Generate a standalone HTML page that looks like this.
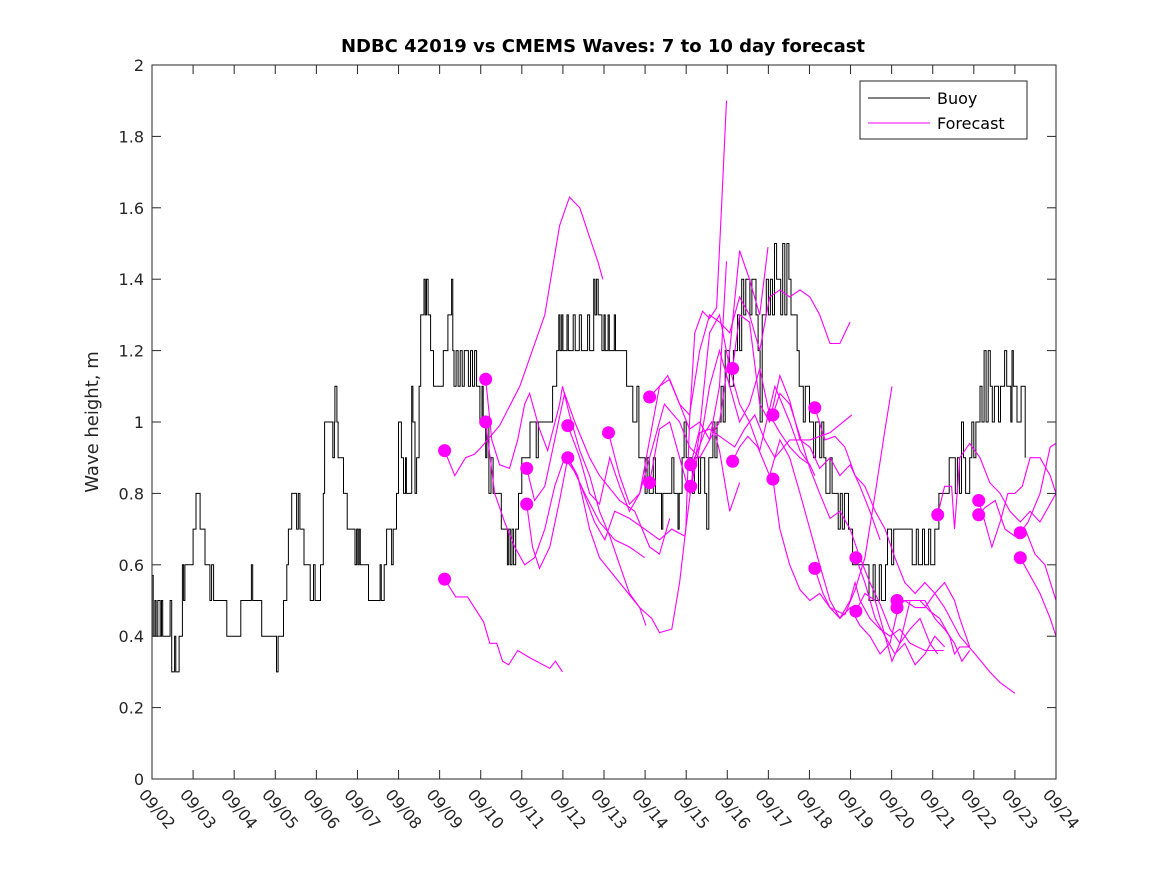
<!DOCTYPE html>
<html><head><meta charset="utf-8"><style>
html,body{margin:0;padding:0;background:#fff;}
svg{display:block;font-family:"DejaVu Sans","Liberation Sans",sans-serif;}
</style></head><body>
<svg id="chart" width="1167" height="875" viewBox="0 0 1167 875" xmlns="http://www.w3.org/2000/svg">
<rect x="0" y="0" width="1167" height="875" fill="#fff"/>
<text x="603" y="52" text-anchor="middle" font-size="18" font-weight="bold" fill="#000">NDBC 42019 vs CMEMS Waves: 7 to 10 day forecast</text>
<text x="0" y="0" transform="translate(98,422) rotate(-90)" text-anchor="middle" font-size="18" fill="#262626">Wave height, m</text>
<g id="plot"></g>
<g id="axes"></g>
<g>
<rect x="860" y="81" width="167" height="58" fill="#fff" stroke="#262626" stroke-width="1"/>
<line x1="868" y1="98" x2="930" y2="98" stroke="#000" stroke-width="1"/>
<text x="937" y="104" font-size="16" fill="#000">Buoy</text>
<line x1="868" y1="123" x2="930" y2="123" stroke="#ff00ff" stroke-width="1"/>
<text x="937" y="129" font-size="16" fill="#000">Forecast</text>
</g>
</svg>
<script>
const xTickLabels=["09/02","09/03","09/04","09/05","09/06","09/07","09/08","09/09","09/10","09/11","09/12","09/13","09/14","09/15","09/16","09/17","09/18","09/19","09/20","09/21","09/22","09/23","09/24"];
const yTicks=[0,0.2,0.4,0.6,0.8,1,1.2,1.4,1.6,1.8,2];
const yTickLabels=["0","0.2","0.4","0.6","0.8","1","1.2","1.4","1.6","1.8","2"];
const buoyT=[0,0.03,0.07,0.1,0.14,0.2,0.23,0.26,0.44,0.48,0.55,0.58,0.66,0.74,0.77,0.8,1.0,1.07,1.17,1.29,1.41,1.45,1.5,1.82,2.16,2.42,2.45,2.67,3.03,3.07,3.2,3.28,3.32,3.4,3.52,3.56,3.6,3.7,3.85,3.93,3.97,4.1,4.17,4.2,4.4,4.44,4.45,4.5,4.53,4.66,4.75,4.94,4.98,5.01,5.04,5.07,5.27,5.55,5.58,5.65,5.71,5.83,5.87,5.95,6.0,6.07,6.12,6.17,6.19,6.32,6.35,6.4,6.44,6.5,6.54,6.62,6.65,6.68,6.72,6.78,6.85,7.09,7.2,7.29,7.32,7.35,7.4,7.45,7.5,7.55,7.6,7.7,7.75,7.8,7.85,7.9,7.98,8.03,8.06,8.12,8.15,8.2,8.25,8.3,8.5,8.65,8.68,8.72,8.76,8.8,8.85,8.92,9.0,9.2,9.35,9.4,9.75,9.85,9.9,9.93,9.97,10.0,10.1,10.13,10.25,10.3,10.4,10.45,10.6,10.65,10.75,10.78,10.82,10.86,10.95,11.0,11.03,11.1,11.13,11.25,11.28,11.55,11.7,11.8,11.85,12.0,12.05,12.1,12.2,12.25,12.4,12.43,12.65,12.7,12.8,12.83,12.9,12.95,13.0,13.15,13.2,13.3,13.35,13.45,13.5,13.55,13.65,13.7,13.75,13.85,13.9,13.95,14.05,14.15,14.25,14.3,14.35,14.4,14.45,14.55,14.6,14.7,14.75,14.8,14.85,14.95,15.0,15.05,15.1,15.15,15.2,15.3,15.35,15.4,15.45,15.5,15.55,15.7,15.75,15.85,15.9,16.0,16.1,16.15,16.25,16.3,16.35,16.4,16.5,16.55,16.7,16.75,16.8,16.85,16.95,17.05,17.45,17.55,17.6,17.7,17.75,17.85,17.9,18.0,18.05,18.5,18.6,18.65,18.75,18.8,18.9,18.95,19.05,19.15,19.4,19.55,19.6,19.65,19.7,19.75,19.8,19.9,19.95,20.0,20.05,20.15,20.2,20.25,20.3,20.35,20.4,20.45,20.5,20.6,20.65,20.75,20.8,20.9,20.93,20.96,21.05,21.15,21.25];
const buoyV=[0.57,0.4,0.5,0.4,0.5,0.4,0.5,0.4,0.5,0.3,0.4,0.3,0.4,0.6,0.5,0.6,0.7,0.8,0.7,0.6,0.5,0.6,0.5,0.4,0.5,0.6,0.5,0.4,0.3,0.4,0.5,0.6,0.7,0.8,0.7,0.8,0.7,0.6,0.5,0.6,0.5,0.6,0.8,1.0,0.9,1.0,1.1,1.0,0.9,0.8,0.7,0.6,0.7,0.6,0.7,0.6,0.5,0.6,0.5,0.6,0.7,0.6,0.7,0.8,1.0,0.9,0.8,0.9,0.8,1.1,1.0,0.8,0.9,1.1,1.3,1.4,1.3,1.4,1.3,1.2,1.1,1.2,1.3,1.4,1.2,1.1,1.2,1.1,1.2,1.1,1.2,1.1,1.2,1.1,1.2,1.1,1.0,1.1,1.0,0.9,1.0,0.8,0.9,0.8,0.7,0.6,0.7,0.6,0.7,0.6,0.7,0.8,0.9,1.0,0.9,1.0,1.1,1.2,1.3,1.2,1.3,1.2,1.3,1.2,1.3,1.2,1.3,1.2,1.3,1.2,1.4,1.3,1.4,1.3,1.2,1.3,1.2,1.3,1.2,1.3,1.2,1.1,1.0,1.1,0.9,0.8,0.9,0.8,0.9,0.8,0.7,0.8,0.9,0.8,0.7,0.8,0.9,1.0,0.9,0.8,0.9,0.8,0.9,0.8,0.7,0.9,1.0,0.9,1.0,1.1,1.0,1.2,1.1,1.2,1.3,1.2,1.4,1.3,1.4,1.3,1.4,1.3,1.2,1.0,1.3,1.4,1.3,1.4,1.3,1.5,1.4,1.3,1.5,1.3,1.5,1.4,1.3,1.2,1.1,1.0,1.1,1.0,0.9,1.0,0.9,1.0,0.9,0.8,0.9,0.8,0.7,0.8,0.7,0.8,0.7,0.6,0.5,0.6,0.5,0.6,0.5,0.6,0.7,0.6,0.7,0.6,0.7,0.6,0.7,0.6,0.7,0.6,0.7,0.8,0.9,0.8,0.9,0.8,1.0,0.9,0.8,0.9,1.0,0.9,1.0,1.1,1.0,1.2,1.0,1.2,1.1,1.0,1.1,1.0,1.1,1.2,1.1,1.0,1.2,1.1,1.0,1.1,0.9];
const fcT=[
[7.12,7.39,7.68,8.07,8.22,8.39,8.53,8.68,8.9,9.19,9.68,9.82,9.99],
[7.12,7.37,7.63,7.85,8.02,8.46,8.95,9.56,9.92,10.16,10.41,10.7,10.85,10.97],
[8.12,8.27,8.46,8.7,8.9,9.07,9.19,9.43,9.63,9.92,9.99,10.16,10.41,10.65,10.89,11.14,11.38,11.62,11.87,12.02],
[8.12,8.34,8.58,8.83,9.07,9.31,9.56,9.8,10.04,10.29,10.53,10.89,11.26,11.62,11.99],
[9.12,9.31,9.56,9.8,10.04,10.29,10.65,10.89,11.38,11.75,12.11,12.35,12.6],
[9.12,9.26,9.43,9.68,9.92,10.12,10.36,10.65,10.89,11.38,11.87,12.16,12.35,12.65,12.84,12.99,13.08,13.21,13.4,13.57,13.74,13.86,13.98],
[10.12,10.41,10.65,10.89,11.14,11.38,11.62,11.87,12.23,12.47,12.84,13.08,13.33,13.57,13.81,13.98],
[10.12,10.41,10.77,11.02,11.26,11.62,11.99,12.35,12.65,12.97,13.21,13.45,13.62,13.81,14.06,14.3],
[11.11,11.38,11.62,11.87,12.11,12.35,12.55,12.84,13.08,13.33,13.57,13.81,14.06,14.3,14.54,14.79,14.99],
[12.11,12.35,12.6,12.84,13.08,13.33,13.57,13.81,14.06,14.3,14.54,14.79,15.03,15.28,15.52,15.77,16.01,16.25,16.5,16.74,16.99],
[12.11,12.35,12.6,12.84,13.08,13.33,13.57,13.81,14.06,14.3,14.54,14.79,15.03,15.28,15.52,15.77,16.01,16.13],
[13.11,13.33,13.57,13.81,14.06,14.3,14.54,14.79,15.16,15.52,15.77,16.01],
[13.11,13.33,13.57,13.94,14.18,14.42,14.67,14.91,15.16,15.52,16.01,16.5,17.03],
[14.13,14.3,14.54,14.79,15.03,15.28,15.52,15.77,16.01,16.25,16.5,16.74,16.99,17.23,17.47,17.72],
[14.13,14.3,14.5,14.74,15.03,15.28,15.52,15.77,16.01,16.25,16.5,16.74,16.99,17.23,17.47,17.72,17.96,18.2],
[15.11,15.28,15.52,15.77,16.01,16.25,16.5,16.74,16.99,17.23,17.47,17.72,17.96,18.2,18.45,18.69,18.93,19.12],
[15.11,15.28,15.52,15.77,16.01,16.25,16.5,16.74,16.99,17.11,17.23,17.47,17.72,17.96,18.2,18.45,18.81,19.27],
[16.13,16.38,16.62,16.86,17.11,17.35,17.6,17.84,18.08,18.32,18.57,18.81,19.05,19.29,19.66,20.03,20.39,20.64,21.0],
[16.13,16.33,16.5,16.86,17.11,17.35,17.6,17.84,18.01],
[17.13,17.35,17.6,17.84,18.08,18.32,18.57,18.81,19.05,19.29],
[17.13,17.35,17.6,17.84,18.01,18.2,18.45,18.69,18.93,19.17,19.41,19.53,19.66,19.9],
[18.13,18.32,18.57,18.81,19.05,19.29,19.53,19.66,19.9],
[18.13,18.32,18.57,18.81,19.05,19.29,19.53,19.71,19.9],
[19.12,19.29,19.46,19.53,19.66,19.9,20.15,20.39,20.64,20.88,21.13,21.37,21.61,22.0],
[20.12,20.27,20.44,20.64,20.83,21.0,21.18,21.37,21.61,21.86,22.0],
[20.12,20.27,20.52,20.76,21.0,21.25,21.49,21.73,22.0],
[21.13,21.32,21.61,21.86,22.0],
[21.13,21.37,21.61,21.86,22.0]
];
const fcV=[
[0.56,0.51,0.51,0.44,0.38,0.38,0.33,0.32,0.36,0.34,0.31,0.33,0.30],
[0.92,0.85,0.9,0.91,0.93,0.99,1.1,1.3,1.55,1.63,1.6,1.5,1.45,1.4],
[1.12,0.95,0.88,0.87,0.95,1.05,1.08,0.98,0.92,1.05,1.1,1.02,0.92,0.85,0.75,0.68,0.6,0.52,0.48,0.43],
[1.0,0.8,0.72,0.65,0.6,0.62,0.7,0.82,0.9,0.86,0.8,0.72,0.67,0.65,0.62],
[0.87,0.78,0.82,0.95,1.08,1.0,0.9,0.85,0.78,0.75,0.65,0.63,0.73],
[0.77,0.65,0.59,0.65,0.78,0.9,0.85,0.7,0.62,0.55,0.48,0.45,0.41,0.42,0.55,0.7,1.0,1.25,1.31,1.29,1.32,1.6,1.9],
[0.99,0.9,0.8,0.77,0.9,0.82,0.75,0.8,0.95,1.05,1.0,0.93,0.9,0.95,1.1,1.45],
[0.9,0.83,0.72,0.67,0.75,0.73,0.7,0.67,0.7,0.68,0.9,0.97,1.0,0.92,0.75,0.83],
[0.97,0.85,0.77,0.8,0.95,1.1,1.13,1.05,0.98,1.0,0.95,1.0,1.2,1.48,1.4,1.3,1.49],
[1.07,1.1,1.12,1.05,1.02,1.2,1.3,1.28,1.25,1.35,1.3,1.2,1.35,1.37,1.35,1.37,1.35,1.3,1.22,1.22,1.28],
[0.83,0.98,1.0,0.9,0.8,0.93,1.1,1.2,1.1,1.0,1.05,1.15,1.02,0.97,0.93,0.9,0.88,0.85],
[0.88,0.98,1.25,1.3,1.15,1.05,1.0,0.92,1.1,1.0,0.92,0.88],
[0.82,0.97,0.98,0.95,0.93,0.98,1.02,0.95,0.9,0.95,0.95,0.97,1.02],
[1.15,1.3,1.28,1.05,1.0,1.13,1.06,0.95,0.93,0.87,0.9,0.85,0.88,0.82,0.75,0.67],
[0.89,0.93,0.96,0.93,0.85,0.95,0.9,0.8,0.7,0.6,0.5,0.45,0.48,0.43,0.4,0.35,0.38,0.5],
[1.02,1.08,1.05,0.96,0.87,0.8,0.73,0.75,0.7,0.62,0.55,0.49,0.42,0.38,0.42,0.45,0.38,0.35],
[0.84,0.7,0.6,0.53,0.5,0.52,0.48,0.45,0.5,0.55,0.5,0.45,0.42,0.4,0.42,0.38,0.36,0.36],
[1.04,0.95,0.96,0.93,0.85,0.82,0.75,0.7,0.62,0.55,0.52,0.55,0.52,0.48,0.4,0.35,0.3,0.27,0.24],
[0.59,0.52,0.48,0.46,0.53,0.62,0.8,0.98,1.1],
[0.62,0.55,0.45,0.4,0.35,0.38,0.32,0.35,0.4,0.37],
[0.47,0.52,0.5,0.4,0.33,0.38,0.5,0.5,0.47,0.45,0.4,0.35,0.37,0.37],
[0.5,0.5,0.48,0.48,0.52,0.55,0.5,0.45,0.37],
[0.48,0.5,0.5,0.5,0.45,0.42,0.38,0.33,0.36],
[0.74,0.82,0.82,0.7,0.9,0.94,0.9,0.83,0.8,0.75,0.72,0.75,0.72,0.8],
[0.78,0.72,0.65,0.72,0.8,0.8,0.82,0.9,0.9,0.85,0.8],
[0.74,0.76,0.78,0.7,0.68,0.7,0.63,0.6,0.5],
[0.69,0.72,0.8,0.93,0.94],
[0.62,0.57,0.52,0.45,0.4]
];
const NS="http://www.w3.org/2000/svg";
const X0=152,X1=1056,Y0=779,Y1=65;
function xs(d){return X0+(X1-X0)*d/22;}
function ys(v){return Y0-(Y0-Y1)*v/2;}
function mk(tag,attrs,parent){const e=document.createElementNS(NS,tag);for(const k in attrs)e.setAttribute(k,attrs[k]);parent.appendChild(e);return e;}
const plot=document.getElementById('plot');
const axes=document.getElementById('axes');
let d="M"+xs(buoyT[0]).toFixed(1)+","+ys(buoyV[0]).toFixed(1);
for(let i=1;i<buoyT.length;i++){d+=" H"+xs(buoyT[i]).toFixed(1)+" V"+ys(buoyV[i]).toFixed(1);}
const bl=mk('path',{d:d,fill:'none',stroke:'#000','stroke-width':1},plot);


for(let k=0;k<fcT.length;k++){
  let p="";
  for(let i=0;i<fcT[k].length;i++){p+=(i?" L":"M")+xs(fcT[k][i]).toFixed(1)+","+ys(fcV[k][i]).toFixed(1);}
  const fl=mk('path',{d:p,fill:'none',stroke:'#ff00ff','stroke-width':1.1},plot);
  
  
}
for(let k=0;k<fcT.length;k++){
  const c=mk('circle',{cx:xs(fcT[k][0]).toFixed(1),cy:ys(fcV[k][0]).toFixed(1),r:6.5,fill:'#ff00ff'},plot);
  
  
}
const box=mk('rect',{x:X0,y:Y1,width:X1-X0,height:Y0-Y1,fill:'none',stroke:'#262626','stroke-width':1},axes);


for(let i=0;i<yTicks.length;i++){
  const y=ys(yTicks[i]);
  mk('line',{x1:X0,y1:y,x2:X0+9,y2:y,stroke:'#262626'},axes);
  mk('line',{x1:X1,y1:y,x2:X1-9,y2:y,stroke:'#262626'},axes);
  const t=mk('text',{x:X0-8,y:y+6,'text-anchor':'end','font-size':16,fill:'#262626'},axes);
  t.textContent=yTickLabels[i];
  
  
}
for(let i=0;i<xTickLabels.length;i++){
  const x=xs(i);
  mk('line',{x1:x,y1:Y0,x2:x,y2:Y0-9,stroke:'#262626'},axes);
  mk('line',{x1:x,y1:Y1,x2:x,y2:Y1+9,stroke:'#262626'},axes);
  const t=mk('text',{x:0,y:0,transform:'translate('+(x-14)+','+(Y0+16)+') rotate(50)','font-size':16,fill:'#262626'},axes);
  t.textContent=xTickLabels[i];
  
  
}
</script>
</body></html>
